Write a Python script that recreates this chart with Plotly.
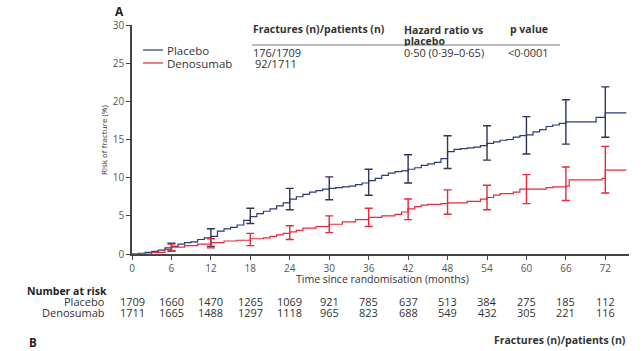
import plotly.graph_objects as go

# ---------------- data ----------------
placebo_months = [0, 1, 2, 3, 4, 5, 6, 7, 8, 9, 10, 11, 12, 13, 14, 15, 16, 17, 18, 19, 20,
                  21, 22, 23, 24, 25, 26, 27, 28, 29, 30, 31, 32, 33, 34, 35, 36, 37, 38, 39,
                  40, 41, 42, 43, 44, 45, 46, 47, 48, 49, 50, 51, 52, 53, 54, 55, 56, 57, 58,
                  59, 60, 61, 62, 63, 64, 65, 66, 70.6, 72, 75.2]
placebo_risk = [0, 0.1, 0.2, 0.35, 0.5, 0.8, 1.0, 1.3, 1.5, 1.6, 1.9, 2.1, 2.3, 3.0, 3.3, 3.5,
                3.8, 4.4, 4.9, 5.3, 5.6, 5.9, 6.3, 6.7, 7.2, 7.5, 7.8, 8.1, 8.3, 8.5, 8.6, 8.7,
                8.8, 8.9, 9.1, 9.3, 9.6, 9.9, 10.3, 10.6, 10.8, 10.9, 11.1, 11.3, 11.6, 11.8,
                12.0, 12.5, 13.4, 13.7, 13.8, 13.9, 14.0, 14.2, 14.5, 14.7, 14.9, 15.0, 15.3,
                15.5, 15.6, 16.0, 16.3, 16.7, 16.9, 17.1, 17.3, 17.9, 18.5, 18.5]

denosumab_months = [0, 3, 5, 6, 8, 10, 12, 14, 16, 18, 20, 21, 22, 23, 24, 25, 26, 28, 30, 32,
                    34, 36, 38, 40, 41, 42, 43, 44, 45, 47, 48, 51, 53, 54, 55, 56, 58, 59, 63,
                    64, 66, 66.5, 71.5, 72, 75.2]
denosumab_risk = [0, 0.2, 0.6, 0.9, 1.1, 1.3, 1.5, 1.7, 1.8, 2.0, 2.1, 2.3, 2.5, 2.7, 2.9, 3.1,
                  3.4, 3.6, 3.9, 4.2, 4.5, 4.8, 5.0, 5.2, 5.5, 5.9, 6.2, 6.4, 6.5, 6.6, 6.7, 6.9,
                  7.2, 7.4, 7.7, 7.9, 8.1, 8.5, 8.7, 8.8, 8.9, 9.7, 9.9, 11.0, 11.0]

ci_months = [6, 12, 18, 24, 30, 36, 42, 48, 54, 60, 66, 72]
placebo_ci_mid = [1.0, 2.3, 4.9, 7.2, 8.6, 9.6, 11.1, 13.4, 14.5, 15.6, 17.3, 18.5]
placebo_ci_low = [0.4, 1.0, 4.0, 5.8, 7.1, 7.7, 9.3, 11.2, 12.3, 13.1, 14.4, 15.3]
placebo_ci_high = [1.4, 3.3, 6.0, 8.6, 10.1, 11.1, 13.0, 15.5, 16.8, 18.0, 20.2, 21.9]
denosumab_ci_mid = [0.9, 1.5, 2.0, 2.9, 3.9, 4.8, 5.9, 6.7, 7.4, 8.5, 8.9, 11.0]
denosumab_ci_low = [0.4, 0.8, 1.1, 1.9, 2.8, 3.6, 4.5, 5.2, 5.8, 6.6, 7.0, 8.0]
denosumab_ci_high = [1.3, 2.0, 2.7, 3.7, 5.0, 6.0, 7.2, 8.4, 9.0, 10.4, 11.4, 14.1]

tick_months = [0, 6, 12, 18, 24, 30, 36, 42, 48, 54, 60, 66, 72]
y_ticks = [0, 5, 10, 15, 20, 25, 30]
at_risk_placebo = [1709, 1660, 1470, 1265, 1069, 921, 785, 637, 513, 384, 275, 185, 112]
at_risk_denosumab = [1711, 1665, 1488, 1297, 1118, 965, 823, 688, 549, 432, 305, 221, 116]

# ---------------- styling ----------------
FONT = "Open Sans"
BLUE = "#2c3a78"
BLUE_BAR = "#2f3552"
RED = "#e8283c"
GREY = "#555555"

L, R, T, B = 132, 629, 25, 254
W, H = 643, 351


def px(x):
    return (x - L) / (R - L)


def py(y):
    return (B - y) / (B - T)


fig = go.Figure()

fig.add_trace(go.Scatter(x=placebo_months, y=placebo_risk, mode="lines",
                         line=dict(color=BLUE, width=1.2, shape="hv"), showlegend=False,
                         hoverinfo="skip"))
fig.add_trace(go.Scatter(x=denosumab_months, y=denosumab_risk, mode="lines",
                         line=dict(color=RED, width=1.2, shape="hv"), showlegend=False,
                         hoverinfo="skip"))

fig.add_trace(go.Scatter(
    x=ci_months, y=placebo_ci_mid, mode="markers", marker=dict(size=0.1, color=BLUE_BAR),
    error_y=dict(type="data", symmetric=False,
                 array=[h - m for h, m in zip(placebo_ci_high, placebo_ci_mid)],
                 arrayminus=[m - l for m, l in zip(placebo_ci_mid, placebo_ci_low)],
                 color=BLUE_BAR, thickness=1.4, width=4),
    showlegend=False, hoverinfo="skip"))
fig.add_trace(go.Scatter(
    x=ci_months, y=denosumab_ci_mid, mode="markers", marker=dict(size=0.1, color=RED),
    error_y=dict(type="data", symmetric=False,
                 array=[h - m for h, m in zip(denosumab_ci_high, denosumab_ci_mid)],
                 arrayminus=[m - l for m, l in zip(denosumab_ci_mid, denosumab_ci_low)],
                 color=RED, thickness=1.4, width=4),
    showlegend=False, hoverinfo="skip"))

ann = []


def text(x, y, s, size=11, bold=False, anchor="left", color="#333333", xref="paper", h=None):
    a = dict(x=x, y=y, xref=xref, yref="paper", text=("<b>%s</b>" % s) if bold else s,
             showarrow=False, xanchor=anchor, yanchor="middle", borderpad=0,
             font=dict(family=FONT, size=size, color=color))
    if h is not None:
        a["height"] = h
    ann.append(a)


# Panel label
text(px(114), py(12), "A", size=12, bold=True, color="#222")
# Summary table
text(px(252), py(29), "Fractures (n)/patients (n)", size=10.5, bold=True)
text(px(403), py(29), "Hazard ratio vs", size=10.5, bold=True, h=11)
text(px(403), py(40), "placebo", size=10.5, bold=True, h=11)
text(px(509), py(29), "p value", size=10.5, bold=True)
text(px(252), py(53), "176/1709", size=11, h=11)
text(px(254), py(64), "92/1711", size=11, h=11)
text(px(403), py(53), "0·50 (0·39–0·65)", size=11)
text(px(507), py(53), "<0·0001", size=11)
# Legend
text(px(166), py(50), "Placebo", size=11.5, h=12)
text(px(166), py(63), "Denosumab", size=11.5, h=12)
# Axis titles
text(px(382), py(279), "Time since randomisation (months)", size=10.5, anchor="center")
ann.append(dict(x=px(103), y=py(140), xref="paper", yref="paper", text="Risk of fracture (%)",
                textangle=-90, showarrow=False, xanchor="center", yanchor="middle",
                font=dict(family=FONT, size=8, color="#333")))
# Number at risk table
text(px(26), py(291), "Number at risk", size=10.5, bold=True, color="#222", h=10)
text(px(106), py(301), "Placebo", size=11, anchor="right", h=10.5)
text(px(106), py(312), "Denosumab", size=11, anchor="right", h=10.5)
for m, a, d in zip(tick_months, at_risk_placebo, at_risk_denosumab):
    text(m, py(301), str(a), size=11, anchor="center", xref="x", h=10.5)
    text(m, py(312), str(d), size=11, anchor="center", xref="x", h=10.5)
# Panel B stub
text(px(28), py(342), "B", size=11.5, bold=True, color="#222")
text(px(627), py(340), "Fractures (n)/patients (n)", size=10.5, bold=True, anchor="right")

shapes = [
    dict(type="line", xref="paper", yref="paper", x0=px(252), x1=px(560), y0=py(45), y1=py(45),
         line=dict(color="#777", width=1)),
    dict(type="line", xref="paper", yref="paper", x0=px(143), x1=px(163), y0=py(50), y1=py(50),
         line=dict(color=BLUE, width=1.2)),
    dict(type="line", xref="paper", yref="paper", x0=px(143), x1=px(163), y0=py(63), y1=py(63),
         line=dict(color=RED, width=1.2)),
]

fig.update_layout(
    width=W, height=H,
    margin=dict(l=L, r=W - R, t=T, b=H - B),
    paper_bgcolor="white", plot_bgcolor="white",
    font=dict(family=FONT, size=10, color=GREY),
    xaxis=dict(range=[0, 75.6], tickvals=tick_months, ticks="outside", ticklen=4,
               tickcolor="#444", showline=True, linecolor="#444", linewidth=1.5,
               showgrid=False, zeroline=False, tickfont=dict(size=10, color=GREY)),
    yaxis=dict(range=[0, 30], tickvals=y_ticks, ticks="outside", ticklen=4,
               tickcolor="#444", showline=True, linecolor="#444", linewidth=1.5,
               showgrid=False, zeroline=False, tickfont=dict(size=10, color=GREY)),
    annotations=ann, shapes=shapes, showlegend=False,
)

fig.write_html("out.html", config={"displayModeBar": False},
               post_script="document.body.style.margin='0';document.body.style.overflow='hidden';")
